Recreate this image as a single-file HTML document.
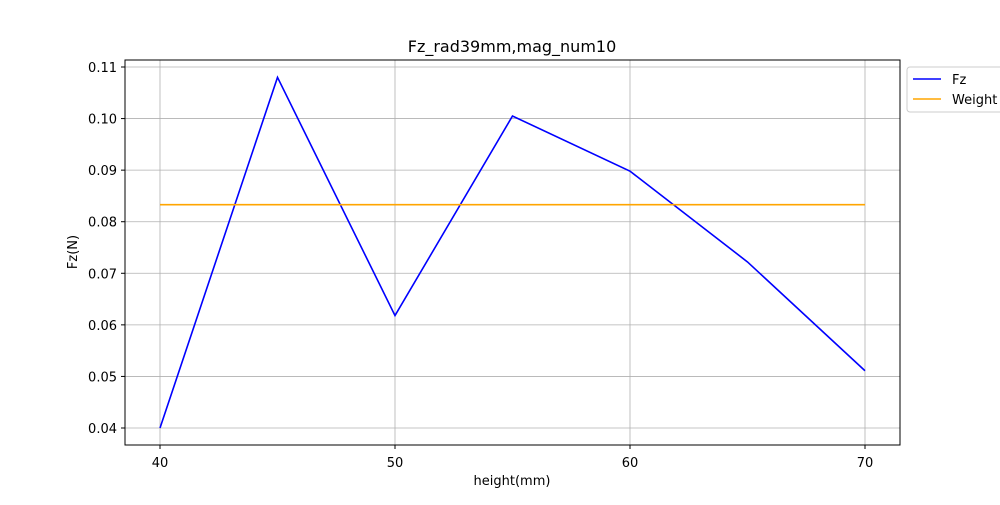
<!DOCTYPE html>
<html><head><meta charset="utf-8"><style>
body{margin:0;background:#fff;}
text{font-family:"DejaVu Sans","Liberation Sans",sans-serif;}
</style></head><body>
<svg id="chart" width="1000" height="500" xmlns="http://www.w3.org/2000/svg">
<rect width="1000" height="500" fill="#fff"/>
<g id="grid"></g>
<g id="series"></g>
<rect x="125" y="60" width="775" height="385" fill="none" stroke="#000" stroke-width="1"/>
<g id="axes"></g>
<text x="512" y="52" text-anchor="middle" font-size="16">Fz_rad39mm,mag_num10</text>
<text x="512" y="485" text-anchor="middle" font-size="13">height(mm)</text>
<text x="77" y="252" text-anchor="middle" font-size="13" transform="rotate(-90 77 252)">Fz(N)</text>
<g>
<rect x="907" y="67" width="100" height="45" fill="#fff" stroke="#ccc" rx="3"/>
<g><line x1="913" y1="79" x2="941" y2="79" stroke="blue" stroke-width="1.5"/><text x="952" y="84" font-size="13">Fz</text></g>
<g><line x1="913" y1="99" x2="941" y2="99" stroke="orange" stroke-width="1.5"/><text x="952" y="104" font-size="13">Weight</text></g>
</g>
</svg>
<script>
const heights=[40,45,50,55,60,65,70];
const fzValues=[0.040,0.108,0.0618,0.1005,0.0898,0.0722,0.0511];
const weightValues=[0.0833,0.0833,0.0833,0.0833,0.0833,0.0833,0.0833];
const xTicks=[40,50,60,70];
const yTicks=[0.04,0.05,0.06,0.07,0.08,0.09,0.10,0.11];
const NS="http://www.w3.org/2000/svg";
const X=v=>160+(v-40)*705/30;
const Y=v=>428-(v-0.04)*361/0.07;
const grid=document.getElementById('grid'),axes=document.getElementById('axes'),ser=document.getElementById('series');
function mk(t,a,p){const e=document.createElementNS(NS,t);for(const k in a)e.setAttribute(k,a[k]);p.appendChild(e);return e;}
xTicks.forEach(t=>{const x=X(t);
const g=mk('line',{x1:x,x2:x,y1:60,y2:445,stroke:'#b0b0b0','stroke-width':0.8},grid);


mk('line',{x1:x,x2:x,y1:445,y2:449,stroke:'#000'},axes);
const l=mk('text',{x:x,y:467,'text-anchor':'middle','font-size':13},axes);l.textContent=t;

});
yTicks.forEach(t=>{const y=Y(t);
const g=mk('line',{x1:125,x2:900,y1:y,y2:y,stroke:'#b0b0b0','stroke-width':0.8},grid);


mk('line',{x1:121,x2:125,y1:y,y2:y,stroke:'#000'},axes);
const l=mk('text',{x:117,y:y+5,'text-anchor':'end','font-size':13},axes);l.textContent=t.toFixed(2);

});
function line(vals,c,n){const p=mk('polyline',{points:heights.map((h,i)=>X(h)+','+Y(vals[i])).join(' '),fill:'none',stroke:c,'stroke-width':1.6},ser);

}
line(fzValues,'blue','fz-line');
line(weightValues,'orange','weight-line');
</script>
</body></html>
